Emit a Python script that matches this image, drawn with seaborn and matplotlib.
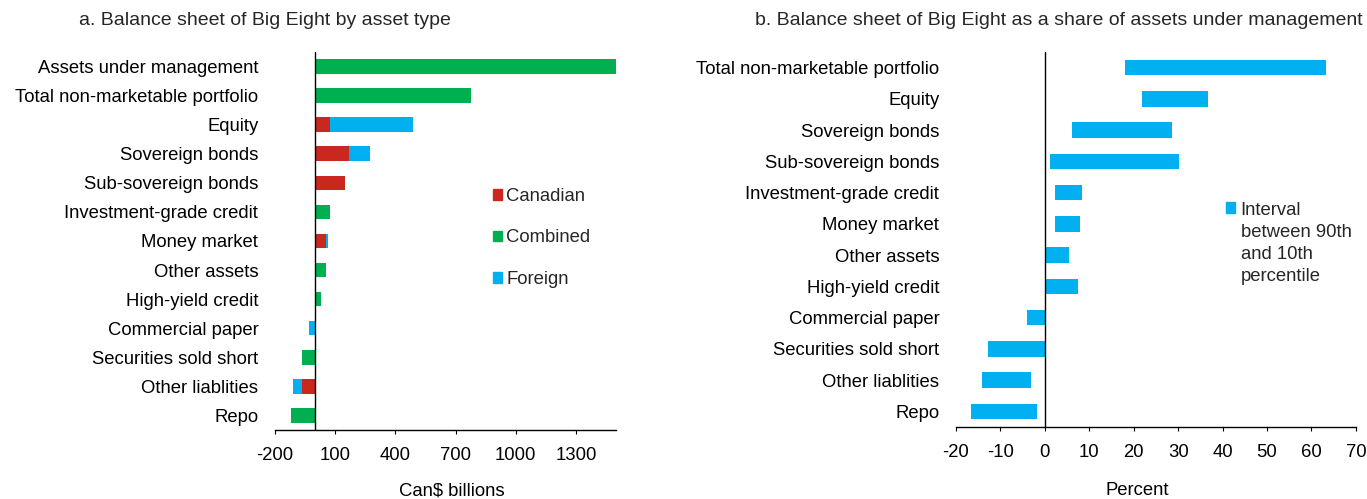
import pandas as pd
import matplotlib
matplotlib.use("Agg")
import matplotlib.pyplot as plt
import seaborn as sns
from matplotlib.patches import Patch, Rectangle
from matplotlib.legend_handler import HandlerPatch

# panel a: Can$ billions
cats_a = ["Assets under management", "Total non-marketable portfolio", "Equity",
          "Sovereign bonds", "Sub-sovereign bonds", "Investment-grade credit",
          "Money market", "Other assets", "High-yield credit", "Commercial paper",
          "Securities sold short", "Other liablities", "Repo"]
canadian = [0, 0, 73, 168, 147, 0, 52, 0, 0, 0, 0, -67, 0]
foreign = [0, 0, 415, 107, 0, 0, 10, 0, 0, -33, 0, -43, 0]
combined = [1500, 777, 0, 0, 0, 73, 0, 52, 30, 0, -67, 0, -120]
ticks_a = [-200, 100, 400, 700, 1000, 1300]

# panel b: percent of assets under management (10th / 90th percentile)
cats_b = cats_a[1:]
p10 = [18.0, 21.9, 6.1, 1.2, 2.2, 2.2, 0.0, 0.0, -4.1, -12.7, -14.2, -16.7]
p90 = [63.2, 36.8, 28.6, 30.1, 8.4, 8.0, 5.5, 7.4, 0.0, 0.0, -3.2, -1.7]
ticks_b = list(range(-20, 71, 10))

RED = "#C8281E"
GREEN = "#00B050"
BLUE = "#00B0F0"
FS = 13.3

sns.set_theme(style="white")
plt.rcParams["font.family"] = ["Liberation Sans", "DejaVu Sans"]

fig = plt.figure(figsize=(13.67, 4.99), dpi=100)
ax1 = fig.add_axes([0.2012, 0.1383, 0.2494, 0.7575])
ax2 = fig.add_axes([0.6993, 0.1443, 0.2926, 0.7515])

df_a = pd.DataFrame({"cat": cats_a, "canadian": canadian,
                     "foreign": foreign, "combined": combined})
df_a["can_for"] = df_a["canadian"] + df_a["foreign"]

bar_kw = dict(orient="h", width=0.5, linewidth=0, saturation=1, errorbar=None)
# stacked: draw canadian+foreign total first, then canadian over it
sns.barplot(data=df_a, x="can_for", y="cat", color=BLUE, ax=ax1, **bar_kw)
sns.barplot(data=df_a, x="canadian", y="cat", color=RED, ax=ax1, **bar_kw)
sns.barplot(data=df_a, x="combined", y="cat", color=GREEN, ax=ax1, **bar_kw)
ax1.set_xlim(-200, 1500)
ax1.set_ylim(12.5, -0.5)
ax1.set_xticks(ticks_a)
ax1.set_xticklabels([str(t) for t in ticks_a])

df_b = pd.DataFrame({"cat": cats_b, "low": p10, "high": p90})
df_b["span"] = df_b["high"] - df_b["low"]
sns.barplot(data=df_b, x="span", y="cat", color=BLUE, ax=ax2, left=df_b["low"], **bar_kw)
ax2.set_xlim(-20, 70)
ax2.set_ylim(11.5, -0.5)
ax2.set_xticks(ticks_b)
ax2.set_xticklabels([str(t) for t in ticks_b])

for ax in (ax1, ax2):
    for s in ("top", "right", "left"):
        ax.spines[s].set_visible(False)
    ax.spines["bottom"].set_color("black")
    ax.spines["bottom"].set_linewidth(1.0)
    ax.axvline(0, color="black", lw=1.0, zorder=5)
    ax.tick_params(axis="y", length=0, pad=12, labelsize=FS, colors="black")
    ax.tick_params(axis="x", direction="out", length=3, width=0.8, pad=9,
                   labelsize=FS, colors="black", bottom=True)
    ax.set_ylabel("")
    ax.grid(False)

ax1.set_xlabel("Can$ billions", fontsize=FS, color="black")
ax1.xaxis.set_label_coords(0.519, -0.1376)
ax2.set_xlabel("Percent", fontsize=FS, color="black")
ax2.xaxis.set_label_coords(0.4525, -0.1467)

handles = [Patch(color=RED, label="Canadian"), Patch(color=GREEN, label="Combined"),
           Patch(color=BLUE, label="Foreign")]
ax1.legend(handles=handles, loc="upper left", bbox_to_anchor=(0.638, 0.64),
           frameon=False, fontsize=FS, handlelength=0.5, handleheight=0.5,
           handletextpad=0.25, labelspacing=1.32, borderpad=0, borderaxespad=0)


def top_square(legend, orig_handle, xdescent, ydescent, width, height, fontsize):
    # put the square next to the first line of a 4-line label
    return Rectangle((-xdescent, -ydescent + 26), width, height)


leg2 = ax2.legend(handles=[Patch(color=BLUE, label="Interval\nbetween 90th\nand 10th\npercentile")],
                  handler_map={Patch: HandlerPatch(patch_func=top_square)},
                  loc="upper left", bbox_to_anchor=(0.675, 0.599), frameon=False,
                  fontsize=FS, handlelength=0.5, handleheight=0.5, handletextpad=0.3,
                  borderpad=0, borderaxespad=0)
for t in leg2.get_texts():
    t.set_linespacing(1.37)

fig.text(0.1939, 0.958, "a. Balance sheet of Big Eight by asset type",
         ha="center", va="center", fontsize=14)
fig.text(0.7745, 0.958, "b. Balance sheet of Big Eight as a share of assets under management",
         ha="center", va="center", fontsize=14)

fig.savefig("out.png", dpi=100)
